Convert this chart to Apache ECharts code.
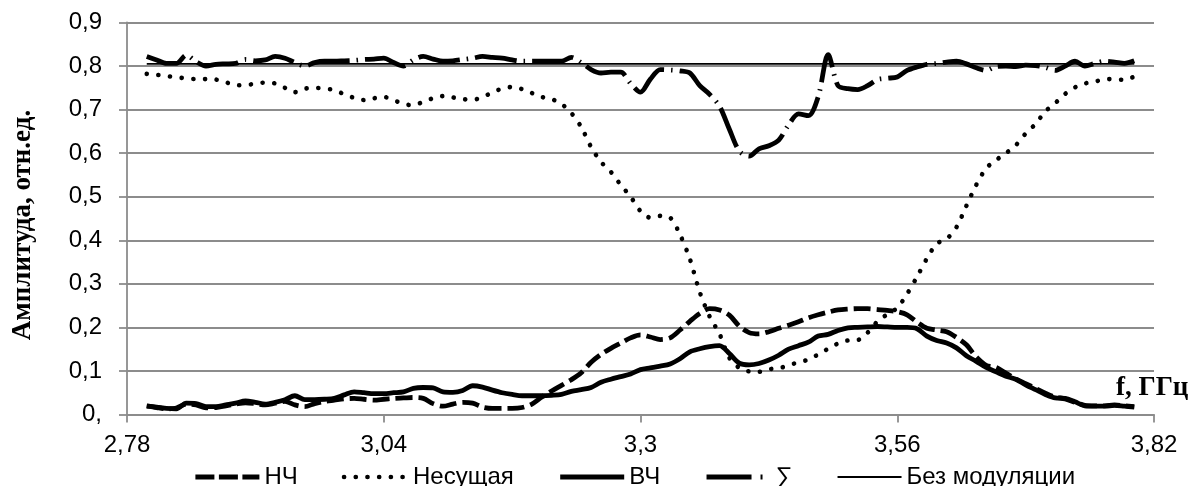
<!DOCTYPE html>
<html>
<head>
<meta charset="utf-8">
<script src="https://cdn.jsdelivr.net/npm/echarts@6/dist/echarts.min.js"></script>
<style>
  html, body { margin: 0; padding: 0; background: #fff; }
  #chart { width: 1188px; height: 486px; }
</style>
</head>
<body>
<div id="chart"></div>
<script>
// Frequency grid, GHz
const freq = [
  2.80, 2.81, 2.82, 2.83, 2.84, 2.85, 2.86, 2.87, 2.88, 2.89,
  2.90, 2.91, 2.92, 2.93, 2.94, 2.95, 2.96, 2.97, 2.98, 2.99,
  3.00, 3.01, 3.02, 3.03, 3.04, 3.05, 3.06, 3.07, 3.08, 3.09,
  3.10, 3.11, 3.12, 3.13, 3.14, 3.15, 3.16, 3.17, 3.18, 3.19,
  3.20, 3.21, 3.22, 3.23, 3.24, 3.25, 3.26, 3.27, 3.28, 3.29,
  3.30, 3.31, 3.32, 3.33, 3.34, 3.35, 3.36, 3.37, 3.38, 3.39,
  3.40, 3.41, 3.42, 3.43, 3.44, 3.45, 3.46, 3.47, 3.48, 3.49,
  3.50, 3.51, 3.52, 3.53, 3.54, 3.55, 3.56, 3.57, 3.58, 3.59,
  3.60, 3.61, 3.62, 3.63, 3.64, 3.65, 3.66, 3.67, 3.68, 3.69,
  3.70, 3.71, 3.72, 3.73, 3.74, 3.75, 3.76, 3.77, 3.78, 3.79,
  3.80
];

// НЧ (lower sideband)
const lowBand = [
  0.020, 0.016, 0.013, 0.015, 0.024, 0.022, 0.015, 0.016, 0.020, 0.024,
  0.027, 0.025, 0.022, 0.026, 0.030, 0.022, 0.018, 0.025, 0.030, 0.033,
  0.036, 0.037, 0.035, 0.033, 0.035, 0.037, 0.038, 0.039, 0.037, 0.025,
  0.019, 0.024, 0.028, 0.026, 0.017, 0.014, 0.014, 0.014, 0.016, 0.024,
  0.040, 0.054, 0.067, 0.080, 0.096, 0.120, 0.138, 0.152, 0.164, 0.176,
  0.183, 0.178, 0.172, 0.176, 0.194, 0.214, 0.232, 0.243, 0.240, 0.228,
  0.203, 0.188, 0.185, 0.190, 0.198, 0.205, 0.213, 0.222, 0.229, 0.235,
  0.240, 0.242, 0.243, 0.243, 0.241, 0.239, 0.236, 0.229, 0.212, 0.198,
  0.194, 0.190, 0.177, 0.160, 0.132, 0.113, 0.108, 0.095, 0.082, 0.071,
  0.060, 0.049, 0.040, 0.036, 0.028, 0.021, 0.020, 0.020, 0.022, 0.020,
  0.018
];

// Несущая (carrier)
const carrier = [
  0.782, 0.780, 0.777, 0.774, 0.772, 0.770, 0.770, 0.769, 0.763, 0.756,
  0.756, 0.760, 0.762, 0.760, 0.750, 0.740, 0.748, 0.750, 0.748, 0.745,
  0.735, 0.727, 0.722, 0.726, 0.729, 0.722, 0.713, 0.710, 0.718, 0.726,
  0.731, 0.728, 0.724, 0.723, 0.728, 0.740, 0.748, 0.752, 0.747, 0.738,
  0.729, 0.724, 0.713, 0.692, 0.660, 0.614, 0.580, 0.557, 0.527, 0.500,
  0.467, 0.452, 0.456, 0.452, 0.413, 0.357, 0.281, 0.225, 0.185, 0.130,
  0.107, 0.099, 0.098, 0.104, 0.106, 0.113, 0.120, 0.126, 0.138, 0.151,
  0.163, 0.170, 0.171, 0.188, 0.214, 0.230, 0.245, 0.277, 0.316, 0.358,
  0.392, 0.403, 0.430, 0.479, 0.527, 0.565, 0.584, 0.600, 0.618, 0.645,
  0.667, 0.696, 0.715, 0.736, 0.751, 0.760, 0.764, 0.770, 0.770, 0.768,
  0.776
];

// ВЧ (upper sideband)
const highBand = [
  0.019, 0.017, 0.014, 0.013, 0.026, 0.025, 0.018, 0.018, 0.022, 0.026,
  0.031, 0.028, 0.024, 0.028, 0.034, 0.043, 0.034, 0.034, 0.035, 0.037,
  0.045, 0.052, 0.050, 0.048, 0.048, 0.050, 0.052, 0.060, 0.062, 0.061,
  0.052, 0.051, 0.055, 0.066, 0.063, 0.056, 0.050, 0.046, 0.043, 0.043,
  0.043, 0.044, 0.046, 0.053, 0.057, 0.062, 0.074, 0.081, 0.087, 0.093,
  0.103, 0.107, 0.111, 0.116, 0.128, 0.144, 0.151, 0.156, 0.158, 0.140,
  0.118, 0.114, 0.117, 0.125, 0.136, 0.150, 0.158, 0.166, 0.180, 0.184,
  0.193, 0.199, 0.200, 0.201, 0.202, 0.201, 0.200, 0.200, 0.197, 0.180,
  0.170, 0.164, 0.153, 0.135, 0.122, 0.108, 0.098, 0.088, 0.081, 0.068,
  0.057, 0.046, 0.038, 0.037, 0.029, 0.020, 0.019, 0.019, 0.021, 0.019,
  0.017
];

// ∑ (total)
const total = [
  0.822, 0.814, 0.806, 0.806, 0.825, 0.810, 0.800, 0.804, 0.805, 0.806,
  0.815, 0.812, 0.814, 0.822, 0.818, 0.808, 0.800, 0.808, 0.811, 0.811,
  0.812, 0.813, 0.815, 0.816, 0.818, 0.808, 0.800, 0.814, 0.822, 0.816,
  0.811, 0.812, 0.815, 0.818, 0.822, 0.820, 0.818, 0.814, 0.811, 0.811,
  0.811, 0.811, 0.811, 0.820, 0.808, 0.792, 0.784, 0.786, 0.786, 0.760,
  0.740, 0.770, 0.792, 0.791, 0.789, 0.784, 0.755, 0.735, 0.708, 0.655,
  0.605, 0.593, 0.610, 0.617, 0.630, 0.665, 0.690, 0.686, 0.730, 0.826,
  0.755, 0.748, 0.746, 0.755, 0.769, 0.772, 0.775, 0.790, 0.798, 0.804,
  0.806, 0.809, 0.811, 0.805, 0.796, 0.790, 0.799, 0.800, 0.799, 0.802,
  0.801, 0.797, 0.790, 0.800, 0.811, 0.800, 0.806, 0.811, 0.809, 0.806,
  0.812
];

// Без модуляции (unmodulated level)
const noModFreq = [2.80, 3.80];
const noModLevel = [0.805, 0.805];

// Axis ticks
const xTicks = [2.78, 3.04, 3.3, 3.56, 3.82];
const yTickLabels = ['0,', '0,1', '0,2', '0,3', '0,4', '0,5', '0,6', '0,7', '0,8', '0,9'];

const pairs = (xs, ys) => xs.map((x, i) => [x, ys[i]]);
const comma = v => String(v).replace('.', ',');

const GRID = '#8c8c8c';
const SANS = '"Liberation Sans", Arial, sans-serif';
const SERIF = '"Liberation Serif", "Times New Roman", serif';

const lineBase = { type: 'line', showSymbol: false, symbol: 'none', smooth: 0.3, animation: false };

const chart = echarts.init(document.getElementById('chart'), null, { renderer: 'canvas' });

chart.setOption({
  animation: false,
  grid: { left: 127, right: 34, top: 22.5, bottom: 71.5, containLabel: false },
  xAxis: {
    type: 'value',
    min: 2.78,
    max: 3.82,
    axisLine: { show: true, lineStyle: { color: GRID, width: 1.8 } },
    axisTick: { show: true, inside: false, length: 8, customValues: xTicks, lineStyle: { color: GRID, width: 1.8 } },
    axisLabel: {
      customValues: xTicks,
      formatter: v => comma(Math.round(v * 100) / 100),
      color: '#000', fontSize: 24, fontFamily: SANS, margin: 19
    },
    splitLine: { show: false }
  },
  yAxis: {
    type: 'value',
    min: 0,
    max: 0.9,
    interval: 0.1,
    axisLine: { show: true, lineStyle: { color: GRID, width: 1.8 } },
    axisTick: { show: true, inside: false, length: 8, lineStyle: { color: GRID, width: 1.8 } },
    axisLabel: {
      formatter: v => yTickLabels[Math.round(v * 10)],
      color: '#000', fontSize: 24, fontFamily: SANS, margin: 25
    },
    splitLine: { show: true, lineStyle: { color: GRID, width: 1.8 } }
  },
  legend: {
    left: 188,
    top: 460,
    itemWidth: 64,
    itemHeight: 14,
    itemGap: 44,
    itemStyle: { opacity: 0, color: 'rgba(0,0,0,0)', borderWidth: 0 },
    lineStyle: { width: 'inherit', type: 'inherit', cap: 'inherit' },
    textStyle: { color: '#000', fontSize: 24, fontFamily: SANS },
    data: [
      { name: 'НЧ', lineStyle: { type: [19, 4.5] } },
      { name: 'Несущая' },
      { name: 'ВЧ' },
      { name: '∑', lineStyle: { type: [45, 9, 2, 8] } },
      { name: 'Без модуляции' }
    ]
  },
  series: [
    Object.assign({}, lineBase, {
      name: 'НЧ',
      data: pairs(freq, lowBand),
      lineStyle: { color: '#000', width: 4.8, type: [17, 6], cap: 'butt', join: 'round' },
      itemStyle: { color: '#000' }
    }),
    Object.assign({}, lineBase, {
      name: 'Несущая',
      data: pairs(freq, carrier),
      lineStyle: { color: '#000', width: 4.6, type: [0.1, 11.6], cap: 'round', join: 'round' },
      itemStyle: { color: '#000' }
    }),
    Object.assign({}, lineBase, {
      name: 'ВЧ',
      data: pairs(freq, highBand),
      lineStyle: { color: '#000', width: 4.8, type: 'solid', cap: 'butt', join: 'round' },
      itemStyle: { color: '#000' }
    }),
    Object.assign({}, lineBase, {
      name: '∑',
      data: pairs(freq, total),
      lineStyle: { color: '#000', width: 4.8, type: [42, 7, 1.5, 7], cap: 'butt', join: 'round' },
      itemStyle: { color: '#000' }
    }),
    Object.assign({}, lineBase, {
      name: 'Без модуляции',
      smooth: false,
      data: pairs(noModFreq, noModLevel),
      lineStyle: { color: '#000', width: 1.8, type: 'solid' },
      itemStyle: { color: '#000' }
    })
  ],
  graphic: [
    {
      type: 'text',
      x: 22.6,
      y: 225,
      rotation: Math.PI / 2,
      style: {
        text: 'Амплитуда, отн.ед.',
        font: 'bold 27px ' + SERIF,
        fill: '#000',
        textAlign: 'center',
        textVerticalAlign: 'middle'
      }
    },
    {
      type: 'text',
      x: 1116,
      y: 388,
      style: {
        text: 'f, ГГц',
        font: 'bold 27px ' + SERIF,
        fill: '#000',
        textAlign: 'left',
        textVerticalAlign: 'middle'
      }
    }
  ]
});
</script>
</body>
</html>
